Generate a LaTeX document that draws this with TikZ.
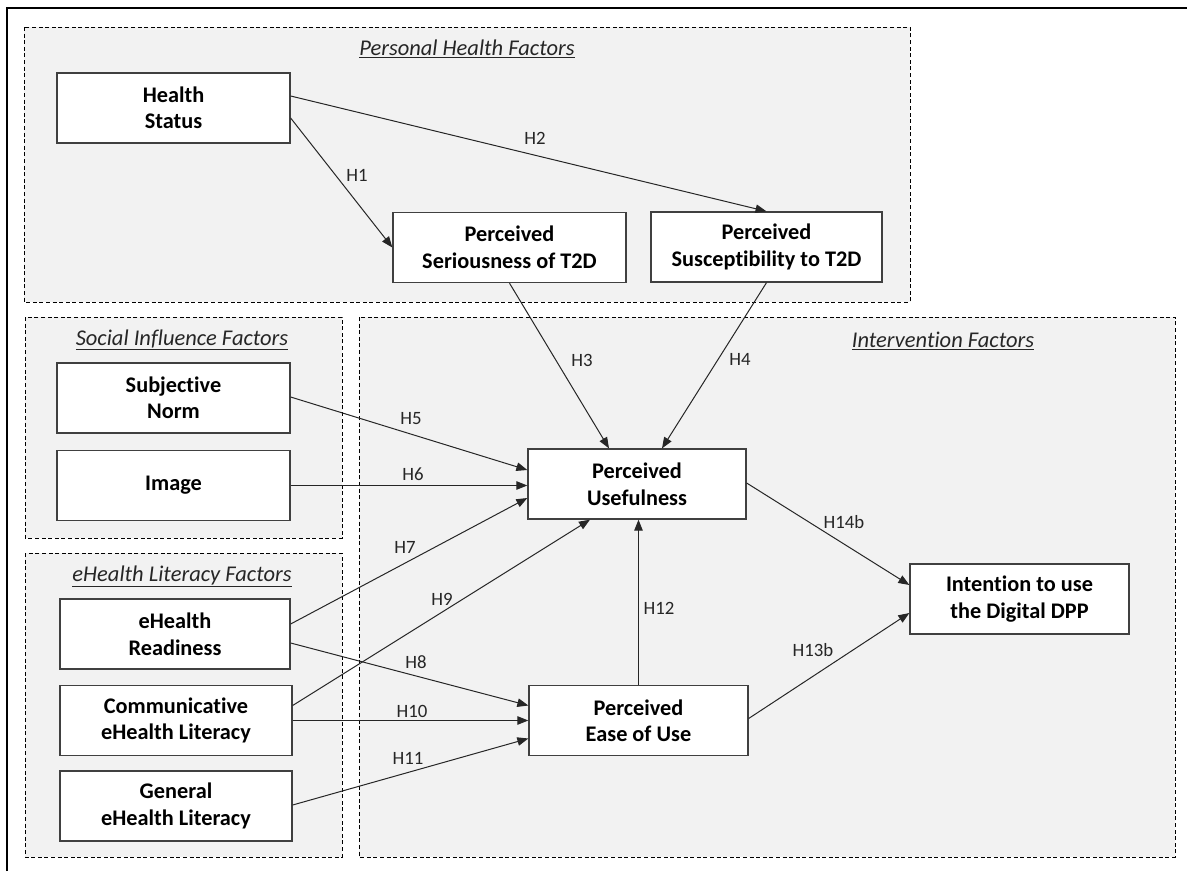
\documentclass[tikz,border=0pt]{standalone}
\usepackage{fontspec}
\setmainfont{Carlito}[Ligatures=NoCommon]
\usetikzlibrary{arrows.meta,calc}

\definecolor{panelgray}{HTML}{F2F2F2}
\definecolor{edgegray}{HTML}{404040}
\definecolor{inkgray}{HTML}{262626}

\tikzset{
  panel/.style={draw=black, fill=panelgray, line width=0.9pt, dash pattern=on 4pt off 2.6pt},
  construct/.style={draw=edgegray, fill=white, line width=1.3pt, inner sep=0pt,
    minimum width=233pt, minimum height=70pt, align=center, text=black,
    font=\bfseries\fontsize{22.3}{26.5}\selectfont},
  paneltitle/.style={inner sep=0pt, text=inkgray, font=\itshape\fontsize{22.5}{26}\selectfont},
  hyp/.style={inner sep=0pt, text=inkgray, font=\fontsize{18.8}{22}\selectfont},
  link/.style={draw=inkgray, line width=1pt, -{Triangle[length=11pt,width=8.5pt]}}
}

\begin{document}
\begin{tikzpicture}[x=1pt, y=-1pt]
\useasboundingbox (0,0) rectangle (1187,871);
\fill[white] (0,0) rectangle (1187,871);

% outer frame (top and left edges)
\draw[black, line width=2pt] (7,871) -- (7,8) -- (1187,8);

% factor panels
\draw[panel] (24,27) rectangle (910,302);
\draw[panel] (25,317) rectangle (342,538);
\draw[panel] (25,553) rectangle (342,857);
\draw[panel] (359,317) rectangle (1175,857);

\node[paneltitle] (tph) at (467,49) {\underline{Personal Health Factors}};
\node[paneltitle] (tsi) at (182,340) {\underline{Social Influence Factors}};
\node[paneltitle] (tif) at (943,341) {\underline{Intervention Factors}};
\node[paneltitle] (tel) at (182,576) {\underline{eHealth Literacy Factors}};

% constructs
\node[construct] (hs)  at (173.5,108)   {Health\\Status};
\node[construct] (ps)  at (509.5,247.5) {Perceived\\Seriousness of T2D};
\node[construct, minimum width=231pt] (psu) at (766.5,247) {Perceived\\Susceptibility to T2D};
\node[construct] (sn)  at (173.5,398)   {Subjective\\Norm};
\node[construct] (im)  at (173.5,485.5) {Image};
\node[construct, minimum width=230pt] (er) at (175,634)   {eHealth\\Readiness};
\node[construct, minimum width=232pt] (cl) at (176,720.5) {Communicative\\eHealth Literacy};
\node[construct, minimum width=232pt] (gl) at (176,806)   {General\\eHealth Literacy};
\node[construct, minimum width=218pt] (pu) at (637,484)   {Perceived\\Usefulness};
\node[construct, minimum width=219pt] (pe) at (638.5,720.5) {Perceived\\Ease of Use};
\node[construct, minimum width=219pt] (in) at (1019.5,599) {Intention to use\\the Digital DPP};

% hypothesised paths
\draw[link] ($(hs.east)+(0,10)$)  -- (ps.west);
\draw[link] ($(hs.east)+(0,-12)$) -- (psu.north);
\draw[link] (ps.south)  -- ($(pu.north)+(-28,0)$);
\draw[link] (psu.south) -- ($(pu.north)+(25,0)$);
\draw[link] ($(sn.east)+(0,-1)$) -- ($(pu.west)+(0,-14)$);
\draw[link] (im.east) -- (im.east -| pu.west);
\draw[link] ($(er.east)+(0,-10)$) -- ($(pu.west)+(0,14)$);
\draw[link] ($(er.east)+(0,9)$)   -- ($(pe.west)+(0,-15)$);
\draw[link] ($(cl.east)+(0,-15)$) -- ($(pu.south)+(-47,0)$);
\draw[link] (cl.east) -- (cl.east -| pe.west);
\draw[link] ($(gl.east)+(0,-1)$)  -- ($(pe.west)+(0,18)$);
\draw[link] (pe.north) -- (pe.north |- pu.south);
\draw[link] ($(pe.east)+(0,-2)$)  -- ($(in.west)+(0,14)$);
\draw[link] ($(pu.east)+(0,-1)$)  -- ($(in.west)+(0,-14)$);

% path labels
\node[hyp] (h1)   at (357,175) {H1};
\node[hyp] (h2)   at (535,138) {H2};
\node[hyp] (h3)   at (582,360) {H3};
\node[hyp] (h4)   at (740,359) {H4};
\node[hyp] (h5)   at (411,419) {H5};
\node[hyp] (h6)   at (413,474) {H6};
\node[hyp] (h7)   at (405,547) {H7};
\node[hyp] (h8)   at (416,662) {H8};
\node[hyp] (h9)   at (442,599) {H9};
\node[hyp] (h10)  at (412,711) {H10};
\node[hyp] (h11)  at (408,758) {H11};
\node[hyp] (h12)  at (659,608) {H12};
\node[hyp] (h13b) at (813,650) {H13b};
\node[hyp] (h14b) at (844,522) {H14b};
\end{tikzpicture}
\end{document}
